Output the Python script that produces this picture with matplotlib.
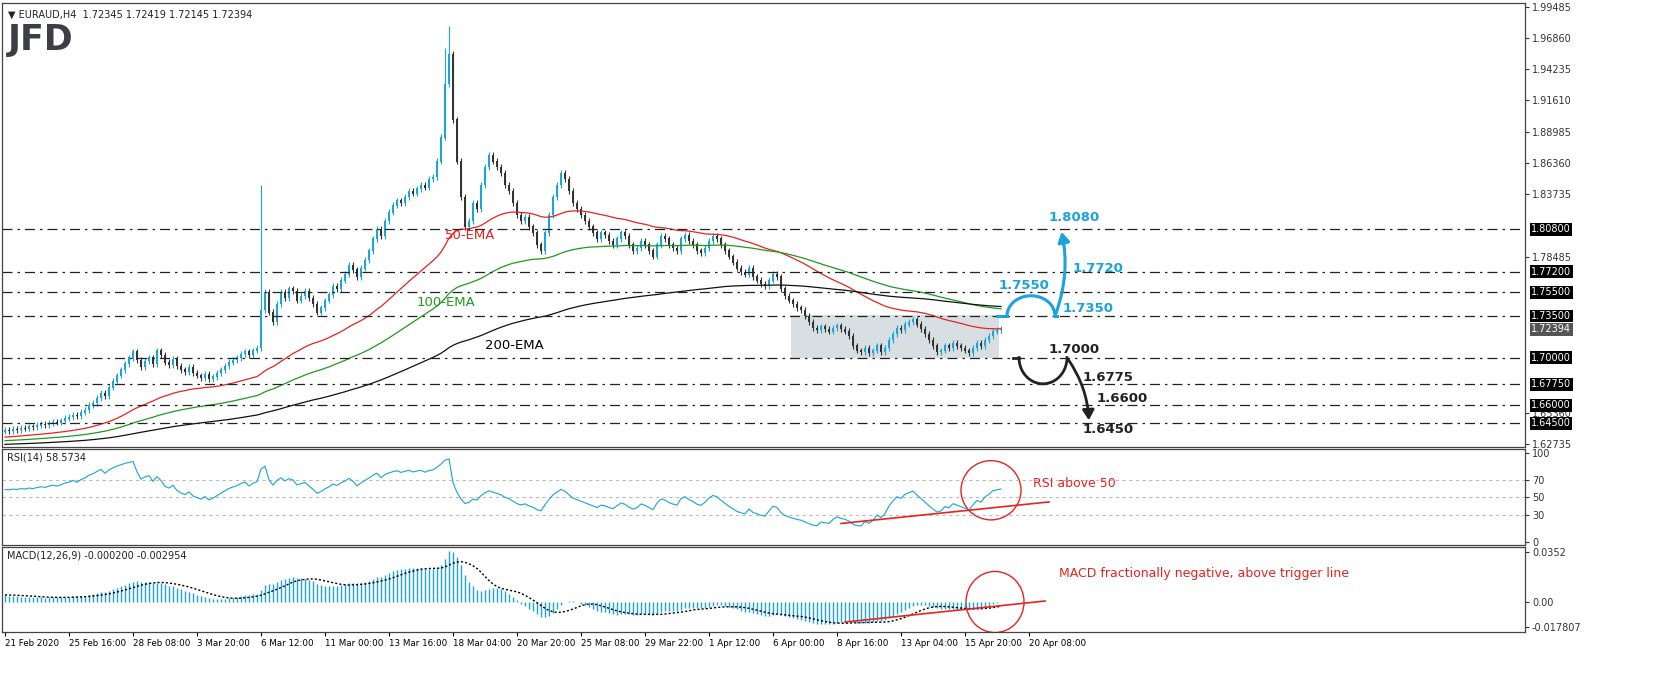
import numpy as np
import matplotlib
matplotlib.use("Agg")
import matplotlib.pyplot as plt
from matplotlib.patches import Ellipse, Rectangle

closes = [
1.6390,1.6385,1.6400,1.6395,1.6410,1.6405,1.6420,1.6415,1.6430,1.6440,
1.6435,1.6450,1.6460,1.6455,1.6470,1.6490,1.6500,1.6520,1.6510,1.6540,
1.6560,1.6600,1.6620,1.6660,1.6700,1.6680,1.6750,1.6800,1.6850,1.6900,
1.6950,1.7000,1.7050,1.6980,1.6920,1.6970,1.7000,1.6950,1.7060,1.7020,
1.6960,1.6940,1.6990,1.6930,1.6900,1.6880,1.6920,1.6870,1.6850,1.6830,
1.6860,1.6820,1.6840,1.6870,1.6900,1.6930,1.6960,1.6980,1.7000,1.7030,
1.7050,1.7020,1.7060,1.7080,1.7400,1.7550,1.7380,1.7300,1.7450,1.7550,
1.7500,1.7580,1.7560,1.7480,1.7520,1.7560,1.7500,1.7450,1.7380,1.7420,
1.7480,1.7530,1.7600,1.7580,1.7650,1.7700,1.7780,1.7740,1.7680,1.7750,
1.7820,1.7900,1.8000,1.8080,1.8020,1.8150,1.8220,1.8280,1.8320,1.8300,
1.8350,1.8400,1.8380,1.8420,1.8450,1.8430,1.8500,1.8520,1.8650,1.8850,
1.9300,1.9550,1.9000,1.8650,1.8350,1.8100,1.8150,1.8300,1.8250,1.8450,
1.8600,1.8700,1.8650,1.8600,1.8550,1.8450,1.8400,1.8300,1.8200,1.8150,
1.8180,1.8100,1.8050,1.7950,1.7900,1.8050,1.8200,1.8350,1.8450,1.8550,
1.8500,1.8400,1.8300,1.8250,1.8200,1.8150,1.8100,1.8050,1.8000,1.8050,
1.8030,1.7980,1.7950,1.8000,1.8050,1.8020,1.7950,1.7900,1.7920,1.7980,
1.7950,1.7900,1.7850,1.7950,1.8020,1.8000,1.7950,1.7920,1.7900,1.8000,
1.8030,1.7980,1.7950,1.7900,1.7880,1.7920,1.7980,1.8020,1.8000,1.7950,
1.7900,1.7850,1.7800,1.7750,1.7720,1.7700,1.7750,1.7680,1.7650,1.7620,
1.7600,1.7650,1.7700,1.7680,1.7580,1.7520,1.7480,1.7450,1.7420,1.7400,
1.7350,1.7300,1.7250,1.7230,1.7260,1.7240,1.7220,1.7250,1.7270,1.7240,
1.7220,1.7180,1.7100,1.7060,1.7050,1.7080,1.7040,1.7060,1.7100,1.7050,
1.7080,1.7150,1.7200,1.7250,1.7230,1.7280,1.7300,1.7320,1.7280,1.7240,
1.7200,1.7150,1.7100,1.7050,1.7060,1.7100,1.7080,1.7120,1.7100,1.7080,
1.7060,1.7040,1.7080,1.7120,1.7100,1.7150,1.7180,1.7220,1.7230,1.72394]
first_open = 1.6380
spike_highs = {64: 1.8450, 110: 1.9600, 111: 1.9790}
levels = [1.8080, 1.7720, 1.7550, 1.7350, 1.7000, 1.6775, 1.6600, 1.6450]
price_ticks = [1.99485, 1.96860, 1.94235, 1.91610, 1.88985, 1.86360, 1.83735, 1.78485, 1.65360, 1.62735]
xlabels = ["21 Feb 2020", "25 Feb 16:00", "28 Feb 08:00", "3 Mar 20:00", "6 Mar 12:00",
           "11 Mar 00:00", "13 Mar 16:00", "18 Mar 04:00", "20 Mar 20:00", "25 Mar 08:00",
           "29 Mar 22:00", "1 Apr 12:00", "6 Apr 00:00", "8 Apr 16:00", "13 Apr 04:00",
           "15 Apr 20:00", "20 Apr 08:00"]
ema_seeds = {50: 1.6330, 100: 1.6300, 200: 1.6270}
macd_seeds = {12: 1.6400, 26: 1.6345}

c = np.array(closes)
n = len(c)
o = np.concatenate([[first_open], c[:-1]])
hi = np.maximum(o, c) + 0.0025
lo = np.minimum(o, c) - 0.0025
for k, v in spike_highs.items():
    hi[k] = v
x = np.arange(n)

def ema(arr, p, seed):
    a = 2 / (p + 1); out = np.empty(len(arr)); prev = seed
    for i, v in enumerate(arr):
        prev = prev + a * (v - prev); out[i] = prev
    return out

e50 = ema(c, 50, ema_seeds[50]); e100 = ema(c, 100, ema_seeds[100]); e200 = ema(c, 200, ema_seeds[200])
d = np.diff(np.concatenate([[first_open], c]))
g = np.where(d > 0, d, 0); l = np.where(d < 0, -d, 0)
ag, al = 0.0035, 0.0025
rsi = []
for gi, li in zip(g, l):
    ag = (ag * 13 + gi) / 14; al = (al * 13 + li) / 14
    rsi.append(100 - 100 / (1 + ag / al))
rsi = np.array(rsi)
macd = ema(c, 12, macd_seeds[12]) - ema(c, 26, macd_seeds[26])
sig = np.convolve(np.concatenate([np.full(8, macd[0]), macd]), np.ones(9) / 9, mode="valid")

W, H = 1655, 686
fig = plt.figure(figsize=(W / 100, H / 100), dpi=100)
L, R = 2 / W, 1525 / W
axm = fig.add_axes([L, (H - 447) / H, R - L, 444 / H])
axr = fig.add_axes([L, (H - 545) / H, R - L, 96 / H])
axd = fig.add_axes([L, (H - 632) / H, R - L, 85 / H])
xl = (-0.75, 380)
for ax in (axm, axr, axd):
    ax.set_xlim(*xl)
    ax.yaxis.tick_right()
    ax.tick_params(axis="y", labelsize=7, colors="#333333", length=3, pad=2)
    ax.tick_params(axis="x", length=0, labelbottom=False)
    for s in ax.spines.values():
        s.set_color("#444444"); s.set_linewidth(0.9)

axm.set_ylim(1.6249, 1.998)
bull, bear = "#1ba6d6", "#333333"
cols = np.where(c >= o, bull, bear)
axm.vlines(x, lo, hi, colors=cols, linewidth=0.8)
axm.bar(x, np.abs(c - o) + 0.0004, bottom=np.minimum(o, c) - 0.0002, width=0.6, color=cols)
axm.plot(x, e50, color="#e8231f", lw=0.9)
axm.plot(x, e100, color="#1f9a1f", lw=0.9)
axm.plot(x, e200, color="#111111", lw=0.9)
axm.add_patch(Rectangle((196.5, 1.7000), 52, 0.0358, color="#b7c5cc", alpha=0.55, lw=0, zorder=0))
for lv in levels:
    axm.axhline(lv, color="#222222", lw=0.9, ls=(0, (8, 4, 2, 4)))
    axm.text(1.004, lv, f"{lv:.5f}", transform=axm.get_yaxis_transform(), fontsize=7,
             color="white", va="center", ha="left",
             bbox=dict(boxstyle="square,pad=0.15", fc="black", ec="none"))
axm.text(1.004, 1.72394, "1.72394", transform=axm.get_yaxis_transform(), fontsize=7,
         color="white", va="center", ha="left",
         bbox=dict(boxstyle="square,pad=0.15", fc="#555555", ec="none"))
axm.set_yticks(price_ticks)
axm.set_yticklabels([f"{t:.5f}" for t in price_ticks])
axm.text(0.004, 0.985, "▼ EURAUD,H4  1.72345 1.72419 1.72145 1.72394", transform=axm.transAxes,
         fontsize=7, va="top", color="#222222")
axm.text(0.004, 0.955, "JFD", transform=axm.transAxes, fontsize=25, fontweight="bold",
         va="top", color="#3b3e45")
axm.text(110, 1.800, "50-EMA", color="#e8231f", fontsize=9.5)
axm.text(103, 1.743, "100-EMA", color="#1f9a1f", fontsize=9.5)
axm.text(120, 1.707, "200-EMA", color="black", fontsize=9.5)

blue = "#1aa3dd"
tt = np.linspace(0, np.pi, 40)
axm.plot([248, 250.5], [1.735, 1.735], color=blue, lw=2.2)
axm.plot(250.5 + 12 * (1 - np.cos(tt)) / 2, 1.735 + 0.017 * np.sin(tt), color=blue, lw=2.2)
axm.plot([262.5, 263], [1.735, 1.735], color=blue, lw=2.2)
axm.annotate("", xy=(264, 1.808), xytext=(262.5, 1.735),
             arrowprops=dict(arrowstyle="-|>,head_length=0.6,head_width=0.35", color=blue, lw=2.2,
                             connectionstyle="arc3,rad=0.15"))
axm.plot([252, 253.5], [1.7, 1.7], color="#222222", lw=2.0)
axm.plot(253.5 + 12 * (1 - np.cos(tt)) / 2, 1.700 - 0.022 * np.sin(tt), color="#222222", lw=2.0)
axm.annotate("", xy=(271, 1.645), xytext=(265.5, 1.700),
             arrowprops=dict(arrowstyle="-|>,head_length=0.6,head_width=0.35", color="#222222", lw=2.0,
                             connectionstyle="arc3,rad=-0.15"))
for tx, ty, s in [(261, 1.815, "1.8080"), (267, 1.772, "1.7720"), (248.5, 1.758, "1.7550"), (264.5, 1.738, "1.7350")]:
    axm.text(tx, ty, s, color=blue, fontsize=9.5, fontweight="bold")
for tx, ty, s in [(261, 1.7035, "1.7000"), (269.5, 1.6805, "1.6775"), (273, 1.6625, "1.6600"), (269.5, 1.6365, "1.6450")]:
    axm.text(tx, ty, s, color="#222222", fontsize=9.5, fontweight="bold")

axr.set_ylim(-3, 104)
axr.set_yticks([0, 30, 50, 70, 100])
for lv in (30, 50, 70):
    axr.axhline(lv, color="#bbbbbb", lw=0.8, ls=(0, (3, 3)))
axr.plot(x, rsi, color="#1aa3dd", lw=0.8)
axr.plot([209, 261], [21, 45], color="#e8231f", lw=1.2)
axr.add_patch(Ellipse((246.5, 58), 15, 66, fill=False, ec="#e8231f", lw=1))
axr.text(257, 62, "RSI above 50", color="#e8231f", fontsize=9)
axr.text(0.003, 0.96, "RSI(14) 58.5734", transform=axr.transAxes, fontsize=7, va="top", color="#222222")

axd.set_ylim(-0.0211, 0.0387)
axd.set_yticks([-0.017807, 0.0, 0.0352])
axd.set_yticklabels(["-0.017807", "0.00", "0.0352"])
axd.vlines(x, 0, macd, colors="#1aa3dd", lw=1.0)
axd.plot(x, sig, color="black", lw=1.0, ls=(0, (1.5, 1.5)))
axd.plot([210, 260], [-0.0141, 0.0007], color="#e8231f", lw=1.2)
axd.add_patch(Ellipse((247.5, 0.0), 14.5, 0.043, fill=False, ec="#e8231f", lw=1))
axd.text(263.5, 0.0175, "MACD fractionally negative, above trigger line", color="#e8231f", fontsize=9)
axd.text(0.003, 0.96, "MACD(12,26,9) -0.000200 -0.002954", transform=axd.transAxes, fontsize=7,
         va="top", color="#222222")
ticks = [16 * k for k in range(len(xlabels))]
axd.set_xticks(ticks)
axd.tick_params(axis="x", length=3, labelbottom=True, labelsize=6.3, pad=2)
axd.set_xticklabels(xlabels, ha="left")

fig.savefig("out.png", dpi=100)
